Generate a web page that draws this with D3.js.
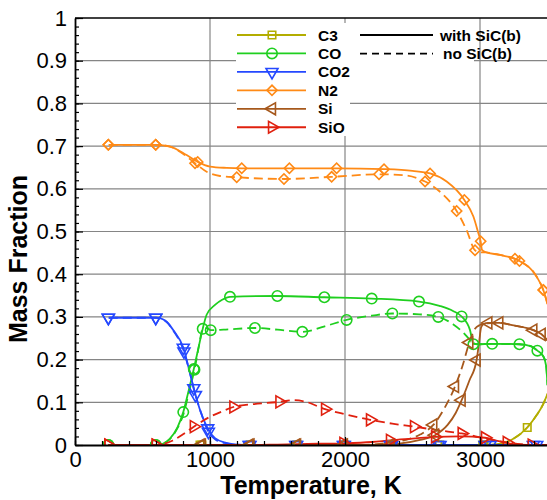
<!DOCTYPE html>
<html>
<head>
<meta charset="utf-8">
<script src="https://cdn.jsdelivr.net/npm/d3@7"></script>
<style>
    body { margin: 0; background: #fff; }
    text { font-family: "Liberation Sans", Arial, Helvetica, sans-serif; }
</style>
</head>
<body>
<svg width="547" height="500"></svg>
<script>
// [temperature K, mass fraction]; "With" = with SiC(b) (solid), "No" = no SiC(b) (dashed)
let c3With = [[250, 0], [3050, 0], [3150, 0.003], [3250, 0.015], [3350, 0.041], [3420, 0.07], [3470, 0.097], [3500, 0.12]];
let c3No = [[250, 0], [3050, 0], [3150, 0.003], [3250, 0.015], [3350, 0.041], [3420, 0.07], [3470, 0.097], [3500, 0.12]];
let c3WithMarks = [[926, 0], [1296, 0], [1640, 0], [1988, 0], [2340, 0], [2685, 0], [3020, 0], [3350, 0.041]];
let c3NoMarks = [[940, 0], [1300, 0], [1650, 0], [1995, 0], [2345, 0], [2700, 0], [3030, 0]];

let coWith = [[250, 0], [600, 0], [650, 0.003], [700, 0.014], [760, 0.042], [802, 0.077], [840, 0.125], [880, 0.178], [915, 0.228],
    [946, 0.272], [975, 0.305], [1037, 0.328], [1090, 0.34], [1148, 0.347], [1500, 0.349], [1847, 0.346], [2198, 0.343],
    [2548, 0.336], [2700, 0.326], [2800, 0.314], [2864, 0.301], [2926, 0.269], [2951, 0.237], [2980, 0.236], [3090, 0.237],
    [3292, 0.236], [3380, 0.231], [3425, 0.221], [3470, 0.207], [3490, 0.185], [3500, 0.14]];
let coNo = [[250, 0], [600, 0], [650, 0.003], [700, 0.013], [760, 0.04], [805, 0.074], [845, 0.125], [885, 0.176], [918, 0.232],
    [946, 0.272], [975, 0.274], [1005, 0.269], [1100, 0.27], [1333, 0.274], [1500, 0.27], [1684, 0.265], [1850, 0.278],
    [2012, 0.293], [2200, 0.303], [2351, 0.308], [2550, 0.306], [2691, 0.3], [2800, 0.283], [2880, 0.262], [2926, 0.246],
    [2965, 0.237], [3000, 0.236], [3090, 0.237], [3292, 0.236], [3380, 0.231], [3425, 0.221], [3470, 0.207], [3490, 0.185], [3500, 0.14]];
let coWithMarks = [[247, 0], [598, 0], [802, 0.077], [880, 0.178], [1148, 0.347], [1499, 0.349], [1847, 0.346], [2198, 0.343],
    [2548, 0.336], [2864, 0.301], [2951, 0.236], [3090, 0.237], [3292, 0.236], [3425, 0.221]];
let coNoMarks = [[247, 0], [598, 0], [885, 0.176], [946, 0.272], [1005, 0.269], [1333, 0.274], [1684, 0.265], [2012, 0.293],
    [2351, 0.308], [2691, 0.3]];

let co2With = [[250, 0.298], [600, 0.298], [630, 0.297], [680, 0.288], [730, 0.268], [802, 0.228], [840, 0.183], [880, 0.133],
    [926, 0.082], [983, 0.039], [1037, 0.016], [1120, 0.005], [1200, 0.001], [1300, 0], [3500, 0]];
let co2No = [[250, 0.298], [600, 0.298], [630, 0.297], [680, 0.288], [730, 0.267], [807, 0.219], [845, 0.176], [892, 0.117],
    [935, 0.074], [988, 0.031], [1040, 0.013], [1120, 0.004], [1200, 0.001], [1300, 0], [3500, 0]];
let co2WithMarks = [[247, 0.298], [598, 0.298], [802, 0.228], [880, 0.133], [983, 0.039], [1296, 0], [1642, 0], [1988, 0],
    [2346, 0], [2691, 0], [3037, 0], [3395, 0]];
let co2NoMarks = [[247, 0.298], [598, 0.298], [807, 0.219], [892, 0.117], [988, 0.031], [1290, 0], [1635, 0], [1995, 0],
    [2335, 0], [2704, 0], [3074, 0], [3420, 0]];

let n2With = [[250, 0.703], [600, 0.703], [704, 0.699], [827, 0.679], [909, 0.663], [1000, 0.652], [1123, 0.649], [1235, 0.648],
    [1588, 0.648], [1938, 0.648], [2289, 0.646], [2500, 0.642], [2630, 0.636], [2753, 0.617], [2884, 0.574], [2951, 0.535],
    [2988, 0.496], [3005, 0.477], [3015, 0.457], [3040, 0.452], [3148, 0.445], [3292, 0.431], [3420, 0.394], [3469, 0.363], [3500, 0.33]];
let n2No = [[250, 0.703], [600, 0.703], [704, 0.699], [800, 0.682], [889, 0.66], [975, 0.64], [1074, 0.63], [1198, 0.627],
    [1548, 0.623], [1901, 0.628], [2252, 0.634], [2432, 0.632], [2593, 0.617], [2704, 0.593], [2827, 0.548], [2901, 0.503],
    [2963, 0.456], [3000, 0.451], [3040, 0.451], [3148, 0.445], [3259, 0.436], [3292, 0.431], [3420, 0.394], [3469, 0.363], [3500, 0.33]];
let n2WithMarks = [[247, 0.703], [598, 0.703], [909, 0.663], [1235, 0.648], [1588, 0.648], [1938, 0.648], [2289, 0.646],
    [2630, 0.636], [2884, 0.574], [3005, 0.477], [3292, 0.431], [3469, 0.363]];
let n2NoMarks = [[247, 0.703], [598, 0.703], [889, 0.66], [1198, 0.627], [1548, 0.623], [1901, 0.628], [2252, 0.634],
    [2593, 0.617], [2827, 0.548], [2963, 0.456], [3259, 0.436], [3469, 0.363]];

let siWith = [[250, 0], [2200, 0], [2400, 0.003], [2556, 0.012], [2667, 0.023], [2760, 0.047], [2820, 0.075], [2864, 0.105],
    [2920, 0.15], [2975, 0.199], [2995, 0.245], [3008, 0.275], [3025, 0.283], [3062, 0.286], [3143, 0.286], [3250, 0.28],
    [3395, 0.269], [3457, 0.259], [3500, 0.245]];
let siNo = [[250, 0], [2100, 0], [2300, 0.004], [2450, 0.012], [2560, 0.025], [2654, 0.047], [2740, 0.088], [2815, 0.137],
    [2870, 0.185], [2921, 0.24], [2963, 0.272], [3000, 0.281], [3049, 0.285], [3143, 0.286], [3250, 0.28], [3395, 0.269],
    [3457, 0.259], [3500, 0.245]];
let siWithMarks = [[930, 0], [1291, 0], [1637, 0], [1988, 0], [2333, 0], [2667, 0.023], [2864, 0.105], [2975, 0.199],
    [3062, 0.286], [3395, 0.269]];
let siNoMarks = [[940, 0], [1300, 0], [1645, 0], [1992, 0], [2340, 0], [2654, 0.047], [2815, 0.137], [2921, 0.24],
    [3143, 0.286], [3457, 0.259]];

let sioWith = [[250, 0], [1300, 0], [1500, 0.001], [1800, 0.003], [2000, 0.004], [2200, 0.007], [2333, 0.011], [2500, 0.015],
    [2667, 0.019], [2850, 0.02], [3037, 0.017], [3120, 0.01], [3210, 0.004], [3300, 0.001], [3383, 0], [3500, 0]];
let sioNo = [[250, 0], [600, 0], [650, 0.002], [720, 0.01], [800, 0.025], [880, 0.043], [1000, 0.066], [1100, 0.08],
    [1173, 0.089], [1300, 0.095], [1514, 0.101], [1617, 0.105], [1700, 0.102], [1852, 0.084], [2000, 0.072], [2185, 0.059],
    [2350, 0.05], [2511, 0.043], [2700, 0.034], [2864, 0.027], [3000, 0.018], [3100, 0.011], [3198, 0.006], [3300, 0.002],
    [3400, 0], [3500, 0]];
let sioWithMarks = [[247, 0], [598, 0], [1988, 0.004], [2333, 0.011], [2667, 0.019], [3037, 0.017], [3383, 0]];
let sioNoMarks = [[247, 0], [598, 0], [880, 0.043], [1173, 0.089], [1514, 0.101], [1852, 0.084], [2185, 0.059], [2511, 0.043],
    [2864, 0.027], [3198, 0.006]];

let species = ['C3', 'CO', 'CO2', 'N2', 'Si', 'SiO'];
let xTicks = [0, 1000, 2000, 3000];
let yTicks = [0, 0.1, 0.2, 0.3, 0.4, 0.5, 0.6, 0.7, 0.8, 0.9, 1];
let caseLabels = ['with SiC(b)', 'no SiC(b)'];

let colors = ['#b3ad00', '#1fcf1f', '#2448ff', '#ff8a16', '#a6581c', '#e0200e'];
// symbol type + rotation for each species
let shapes = [
    { type: d3.symbolSquare, size: 56, rot: 0 },
    { type: d3.symbolCircle, size: 85, rot: 0 },
    { type: d3.symbolTriangle, size: 62, rot: 180 },
    { type: d3.symbolSquare, size: 52, rot: 45 },
    { type: d3.symbolTriangle, size: 62, rot: -90 },
    { type: d3.symbolTriangle, size: 62, rot: 90 }
];

let series = [
    { line: [c3With, c3No], marks: [c3WithMarks, c3NoMarks] },
    { line: [coWith, coNo], marks: [coWithMarks, coNoMarks] },
    { line: [co2With, co2No], marks: [co2WithMarks, co2NoMarks] },
    { line: [n2With, n2No], marks: [n2WithMarks, n2NoMarks] },
    { line: [siWith, siNo], marks: [siWithMarks, siNoMarks] },
    { line: [sioWith, sioNo], marks: [sioWithMarks, sioNoMarks] }
];

let svg = d3.select('svg');
let margin = { left: 75, top: 18, bottom: 445, right: 547.5 };

let x = d3.scaleLinear().domain([0, 3500]).range([margin.left, margin.right]);
let y = d3.scaleLinear().domain([0, 1]).range([margin.bottom, margin.top]);

svg.append('defs').append('clipPath').attr('id', 'plot')
    .append('rect')
    .attr('x', margin.left).attr('y', margin.top)
    .attr('width', margin.right - margin.left).attr('height', margin.bottom - margin.top);

// grid
let grid = svg.append('g').style('stroke', '#858585').style('stroke-width', 1.2);
grid.selectAll('.vg').data(xTicks.slice(1)).enter().append('line')
    .attr('x1', d => x(d)).attr('x2', d => x(d))
    .attr('y1', margin.top).attr('y2', margin.bottom);
grid.selectAll('.hg').data(yTicks.slice(1, -1)).enter().append('line')
    .attr('y1', d => y(d)).attr('y2', d => y(d))
    .attr('x1', margin.left).attr('x2', margin.right);

// lines
let line = d3.line()
    .x(d => x(d[0]))
    .y(d => y(d[1]))
    .curve(d3.curveMonotoneX);

let plot = svg.append('g').attr('clip-path', 'url(#plot)');

series.forEach((s, i) => {
    plot.append('path')
        .attr('d', line(s.line[1]))
        .style('fill', 'none')
        .style('stroke', colors[i])
        .style('stroke-width', 1.8)
        .style('stroke-dasharray', '9,5');
    plot.append('path')
        .attr('d', line(s.line[0]))
        .style('fill', 'none')
        .style('stroke', colors[i])
        .style('stroke-width', 1.8);
});

// axes
let xAxis = d3.axisBottom(x).tickValues(xTicks).tickSize(-8).tickSizeOuter(0).tickPadding(6).tickFormat(d3.format('d'));
let xMinor = d3.axisBottom(x).tickValues(d3.range(0, 3501, 200)).tickSize(-4).tickFormat('');
let yAxis = d3.axisLeft(y).tickValues(yTicks).tickSize(-8).tickSizeOuter(0).tickPadding(8).tickFormat(d => d3.format('~g')(d));
let yMinor = d3.axisLeft(y).tickValues(d3.range(0, 1.001, 0.02)).tickSize(-4).tickFormat('');

svg.append('g').attr('transform', 'translate(0,' + margin.bottom + ')').call(xMinor)
    .call(g => g.select('.domain').remove());
svg.append('g').attr('transform', 'translate(' + margin.left + ',0)').call(yMinor)
    .call(g => g.select('.domain').remove());

let gx = svg.append('g').attr('transform', 'translate(0,' + margin.bottom + ')').call(xAxis);
let gy = svg.append('g').attr('transform', 'translate(' + margin.left + ',0)').call(yAxis);

svg.selectAll('.tick line').style('stroke', '#000').style('stroke-width', 1.2);
[gx, gy].forEach(g => {
    g.select('.domain').style('stroke', '#000').style('stroke-width', 1.8);
    g.selectAll('text')
        .style('font-family', '"Liberation Sans", Arial, sans-serif')
        .style('font-size', '22px')
        .style('fill', '#000');
});

// frame top
svg.append('line')
    .attr('x1', margin.left).attr('x2', margin.right)
    .attr('y1', margin.top).attr('y2', margin.top)
    .style('stroke', '#000').style('stroke-width', 1.5);

// markers
series.forEach((s, i) => {
    let sym = d3.symbol().type(shapes[i].type).size(shapes[i].size);
    [1, 0].forEach(c => {
        plot.selectAll('.m' + i + c)
            .data(s.marks[c])
            .enter().append('path')
            .attr('d', sym)
            .attr('transform', d => 'translate(' + x(d[0]) + ',' + y(d[1]) + ') rotate(' + shapes[i].rot + ')')
            .style('fill', 'none')
            .style('stroke', colors[i])
            .style('stroke-width', 1.6);
    });
});

// axis labels
svg.append('text')
    .attr('x', 311).attr('y', 494)
    .style('text-anchor', 'middle')
    .style('font-size', '25px').style('font-weight', 'bold')
    .text('Temperature, K');

svg.append('text')
    .attr('transform', 'translate(27,259) rotate(-90)')
    .style('text-anchor', 'middle')
    .style('font-size', '25px').style('font-weight', 'bold')
    .text('Mass Fraction');

// legend
let legend = svg.append('g');
legend.append('rect').attr('x', 236).attr('y', 23).attr('width', 114).attr('height', 113).style('fill', '#fff');
legend.append('rect').attr('x', 350).attr('y', 22).attr('width', 124).attr('height', 44).style('fill', '#fff');

species.forEach((name, i) => {
    let ly = 35 + i * 18.45;
    legend.append('line')
        .attr('x1', 237).attr('x2', 306).attr('y1', ly).attr('y2', ly)
        .style('stroke', colors[i]).style('stroke-width', 1.8);
    legend.append('path')
        .attr('d', d3.symbol().type(shapes[i].type).size(shapes[i].size)())
        .attr('transform', 'translate(272,' + ly + ') rotate(' + shapes[i].rot + ')')
        .style('fill', 'none').style('stroke', colors[i]).style('stroke-width', 1.6);
    legend.append('text')
        .attr('x', 318).attr('y', ly + 5.5)
        .style('font-size', '15.5px').style('font-weight', 'bold')
        .text(name);
});

caseLabels.forEach((label, i) => {
    let ly = 35 + i * 18.7;
    legend.append('line')
        .attr('x1', 360).attr('x2', 433).attr('y1', ly).attr('y2', ly)
        .style('stroke', '#000').style('stroke-width', 1.8)
        .style('stroke-dasharray', i == 1 ? '7,5' : null);
    legend.append('text')
        .attr('x', i == 1 ? 443 : 440).attr('y', ly + 5.5)
        .style('font-size', '15.5px').style('font-weight', 'bold')
        .text(label);
});
</script>
</body>
</html>
